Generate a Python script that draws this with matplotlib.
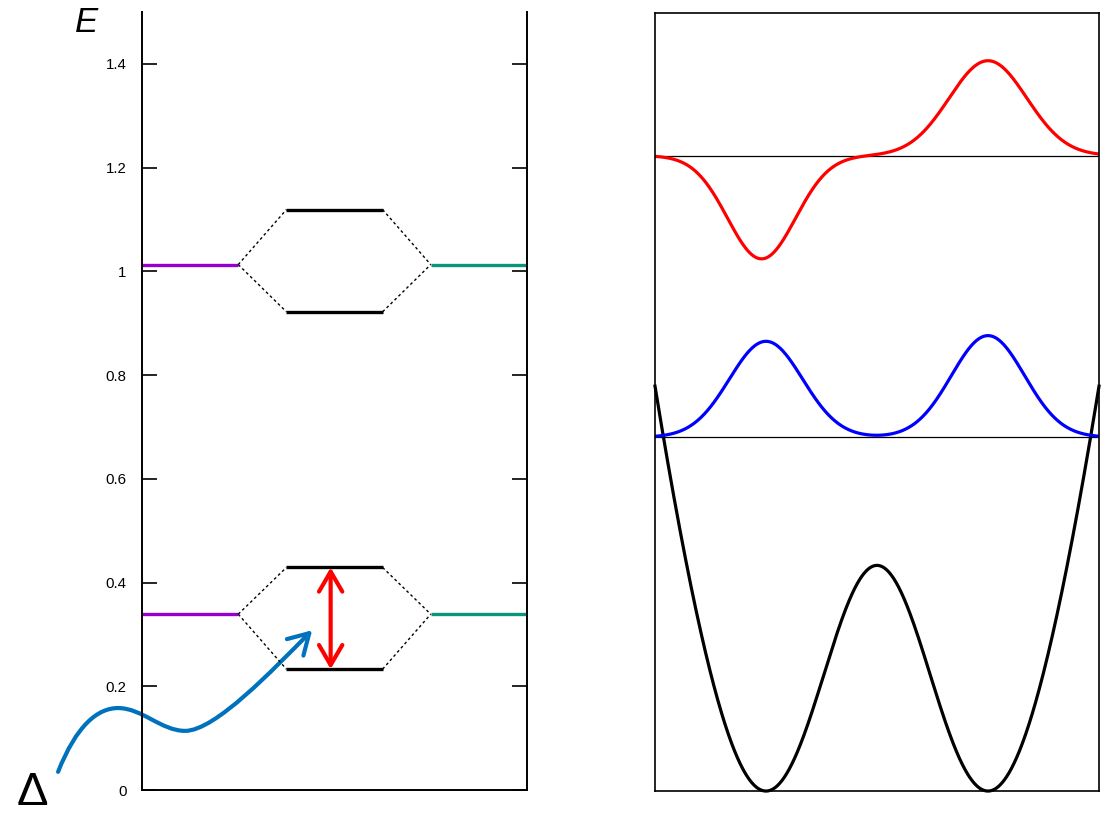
import numpy as np
import matplotlib
matplotlib.use("Agg")
import matplotlib.pyplot as plt
from matplotlib.patches import FancyArrowPatch
from matplotlib.path import Path

plt.rcParams['font.family'] = ['Liberation Sans', 'DejaVu Sans']

# Level diagram (left): isolated wells on both sides, split pair in the middle
single_levels = [0.339, 1.013]   # energy of each isolated-well level
split_upper = [0.429, 1.119]     # bonding / antibonding pair, upper member
split_lower = [0.233, 0.922]     # lower member
left_span = (0.0, 0.25)
mid_span = (0.375, 0.625)
right_span = (0.75, 1.0)
gap_arrow_x = 0.49
yticks = [0, 0.2, 0.4, 0.6, 0.8, 1.0, 1.2, 1.4]
ytick_labels = ['0', '0.2', '0.4', '0.6', '0.8', '1', '1.2', '1.4']

# Delta arrow control points (data coords of the left panel, drawn outside the axes)
delta_path = [(-0.218, 0.035), (-0.17, 0.125), (-0.115, 0.158), (-0.062, 0.158),
              (0.0, 0.158), (0.05, 0.114), (0.112, 0.114),
              (0.19, 0.114), (0.34, 0.232), (0.442, 0.308)]

# Double well (right): V(u) = a u^2 + b exp(-u^2/s^2) + c on u in [-1, 1]
V_a, V_b, V_s, V_c = 1.337, 0.994, 0.41, -0.559
# eigenstates drawn on their energy baselines as two localized lobes
psi0_level = 0.682
psi0_lobes = [(-0.5, 0.185, 0.165), (0.5, 0.196, 0.165)]    # centre, amplitude, width
psi1_level = 1.225
psi1_lobes = [(-0.52, -0.199, 0.153), (0.5, 0.183, 0.175)]

purple = '#9400d3'
green = '#0a967c'

fig = plt.figure(figsize=(11.1, 8.18), dpi=100)

# ---- left panel ----
ax = fig.add_axes([142 / 1110, 1 - 790 / 818, 385 / 1110, 778 / 818])
ax.set_xlim(0, 1)
ax.set_ylim(0, 1.5)
ax.spines['top'].set_visible(False)
for s in ['left', 'bottom', 'right']:
    ax.spines[s].set_linewidth(1.4)
ax.set_xticks([])
ax.set_yticks(yticks)
ax.set_yticklabels(ytick_labels)
ax.tick_params(axis='y', direction='in', length=11, width=1.2, right=True,
               labelsize=10.8, pad=11)

for e0, hi, lo in zip(single_levels, split_upper, split_lower):
    ax.plot(left_span, [e0, e0], color=purple, lw=2.4, solid_capstyle='butt')
    ax.plot(right_span, [e0, e0], color=green, lw=2.4, solid_capstyle='butt')
    ax.plot(mid_span, [hi, hi], color='black', lw=2.4, solid_capstyle='butt')
    ax.plot(mid_span, [lo, lo], color='black', lw=2.4, solid_capstyle='butt')
    for e in (hi, lo):
        ax.plot([left_span[1], mid_span[0]], [e0, e], color='black', lw=1.0,
                ls=(0, (2, 2)))
        ax.plot([mid_span[1], right_span[0]], [e, e0], color='black', lw=1.0,
                ls=(0, (2, 2)))

# tunnel splitting arrow on the lower pair
gap = FancyArrowPatch((gap_arrow_x, split_lower[0]), (gap_arrow_x, split_upper[0]),
                      arrowstyle='<->,head_length=0.72,head_width=0.42',
                      mutation_scale=20, color='red', lw=3.0,
                      shrinkA=0, shrinkB=0)
ax.add_patch(gap)

codes = [Path.MOVETO] + [Path.CURVE4] * 9
wiggle = FancyArrowPatch(path=Path(delta_path, codes),
                         arrowstyle='->,head_length=0.72,head_width=0.42',
                         mutation_scale=20, color='#0072bd', lw=3.0,
                         clip_on=False)
ax.add_patch(wiggle)

fig.text(87 / 1110, 1 - 23 / 818, 'E', fontsize=25, style='italic',
         ha='center', va='center')
fig.text(32 / 1110, 1 - 793 / 818, 'Δ', fontsize=34, ha='center', va='center')

# ---- right panel ----
ax2 = fig.add_axes([655 / 1110, 1 - 791 / 818, 444 / 1110, 778 / 818])
ax2.set_xlim(-1, 1)
ax2.set_ylim(0, 1.5)
ax2.set_xticks([])
ax2.set_yticks([])
for s in ax2.spines.values():
    s.set_linewidth(1.2)

u = np.linspace(-1, 1, 800)
V = V_a * u**2 + V_b * np.exp(-u**2 / V_s**2) + V_c
ax2.plot(u, V, color='black', lw=2.3, clip_on=False)

for level, lobes, col in [(psi0_level, psi0_lobes, 'blue'),
                          (psi1_level, psi1_lobes, 'red')]:
    psi = np.zeros_like(u)
    for c, amp, w in lobes:
        psi += amp * np.exp(-(u - c)**2 / (2 * w**2))
    ax2.axhline(level, color='black', lw=0.9)
    ax2.plot(u, level + psi, color=col, lw=2.3)

fig.savefig('out.png', dpi=100)
